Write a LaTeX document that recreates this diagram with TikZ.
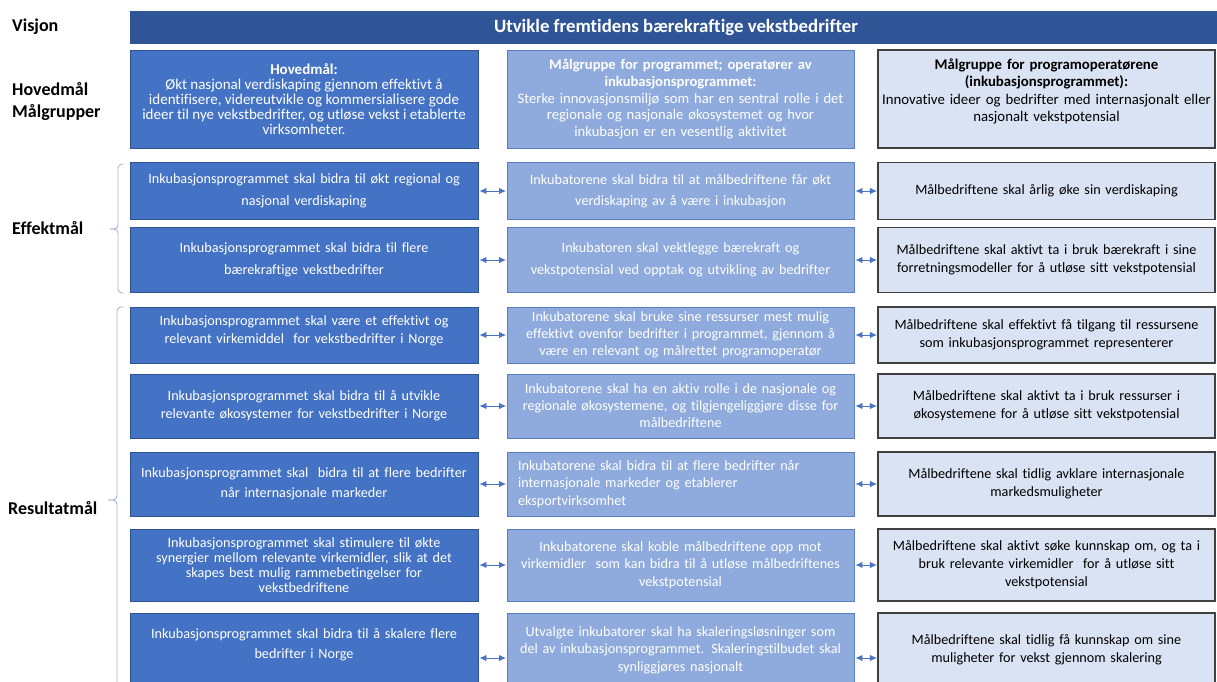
\documentclass[tikz,border=0pt]{standalone}
\usepackage{fontspec}
\setmainfont{Carlito}[Ligatures=NoCommon]
\usetikzlibrary{arrows.meta}
\definecolor{visj}{HTML}{2F5597}
\definecolor{cafill}{HTML}{4472C4}
\definecolor{caline}{HTML}{2F528F}
\definecolor{cbfill}{HTML}{8FAADC}
\definecolor{cbline}{HTML}{5B7EC0}
\definecolor{ccfill}{HTML}{DAE3F3}
\definecolor{ccline}{HTML}{404040}
\definecolor{arrc}{HTML}{4A74C2}
\definecolor{brkc}{HTML}{A9B8D8}
\begin{document}
\begin{tikzpicture}[x=1pt,y=-1pt,
  box/.style={draw, line width=0.9pt, inner sep=0pt, align=center, font=\fontsize{14.2}{18}\selectfont},
  ls/.style={font=\fontsize{14.2}{#1}\selectfont},
  lsf/.style 2 args={font=\fontsize{#1}{#2}\selectfont},
  cabase/.style={box, fill=cafill, draw=caline, text=white, minimum width=348pt},
  ca/.style={cabase, text width=346pt},
  cb/.style={box, fill=cbfill, draw=cbline, text=white, minimum width=347pt, text width=345pt},
  cc/.style={box, fill=ccfill, draw=ccline, line width=1.1pt, text=black, minimum width=337pt, text width=335pt},
  lab/.style={font=\fontsize{18}{22}\selectfont\bfseries, anchor=west, align=left, inner sep=0pt},
  biarrow/.style={{Latex[length=7pt,width=6.5pt]}-{Latex[length=7pt,width=6.5pt]}, draw=arrc, line width=0.9pt, shorten <=1pt, shorten >=0.5pt},
  brk/.style={draw=brkc, line width=0.9pt, rounded corners=4pt}]
\useasboundingbox (0,0) rectangle (1217,682);
\clip (0,0) rectangle (1217,682);

% left labels
\node[lab] (lv) at (12,27) {Visjon};
\node[lab] (lh) at (12,102) {Hovedmål\\Målgrupper};
\node[lab] (le) at (12,228) {Effektmål};
\node[lab] (lr) at (8,508) {Resultatmål};

% vision bar
\node[fill=visj, draw=visj, inner sep=0pt, minimum width=1092pt, minimum height=32pt, text=white,
  font=\fontsize{18.8}{22}\selectfont\bfseries] (vis) at (676,27) {Utvikle fremtidens bærekraftige vekstbedrifter};

% Hovedmål row
\node[cabase, minimum height=98pt, lsf={15}{15}] (h1) at (304,99) {\textbf{Hovedmål:}\\Økt nasjonal verdiskaping gjennom effektivt å\\identifisere, videreutvikle og kommersialisere gode\\ideer til nye vekstbedrifter, og utløse vekst i etablerte\\virksomheter.};
\node[cb, minimum height=98pt, lsf={14.6}{16.7}] (h2) at (680.5,99) {\textbf{Målgruppe for programmet; operatører av}\\\textbf{inkubasjonsprogrammet:}\\Sterke innovasjonsmiljø som har en sentral rolle i det\\regionale og nasjonale økosystemet og hvor\\inkubasjon er en vesentlig aktivitet};
\node[cc, minimum height=98pt, lsf={14.8}{17.5}] (h3) at (1046.5,99) {\textbf{Målgruppe for programoperatørene}\\\textbf{(inkubasjonsprogrammet):}\\Innovative ideer og bedrifter med internasjonalt eller\\nasjonalt vekstpotensial\\\mbox{}};

% Effektmål rows
\node[ca, minimum height=57pt, ls=21.5] (e1a) at (304,191) {Inkubasjonsprogrammet skal bidra til økt regional og\\nasjonal verdiskaping};
\node[cb, minimum height=57pt, ls=21] (e1b) at (680.5,191) {Inkubatorene skal bidra til at målbedriftene får økt\\verdiskaping av å være i inkubasjon};
\node[cc, minimum height=57pt] (e1c) at (1046.5,191) {Målbedriftene skal årlig øke sin verdiskaping};

\node[ca, minimum height=64.5pt, ls=21.5] (e2a) at (304,260) {Inkubasjonsprogrammet skal bidra til flere\\bærekraftige vekstbedrifter};
\node[cb, minimum height=64.5pt, ls=21.5] (e2b) at (680.5,260) {Inkubatoren skal vektlegge bærekraft og\\vekstpotensial ved opptak og utvikling av bedrifter};
\node[cc, minimum height=64.5pt] (e2c) at (1046.5,260) {Målbedriftene skal aktivt ta i bruk bærekraft i sine\\forretningsmodeller for å utløse sitt vekstpotensial};

% Resultatmål rows
\node[ca, minimum height=56pt] (r1a) at (304,335) {Inkubasjonsprogrammet skal være et effektivt og\\relevant virkemiddel \ for vekstbedrifter i Norge\\[-8pt]\mbox{}};
\node[cb, minimum height=56pt, ls=17] (r1b) at (680.5,335) {Inkubatorene skal bruke sine ressurser mest mulig\\effektivt ovenfor bedrifter i programmet, gjennom å\\være en relevant og målrettet programoperatør};
\node[cc, minimum height=56pt] (r1c) at (1046.5,335) {Målbedriftene skal effektivt få tilgang til ressursene\\som inkubasjonsprogrammet representerer};

\node[ca, minimum height=64pt] (r2a) at (304,406) {Inkubasjonsprogrammet skal bidra til å utvikle\\relevante økosystemer for vekstbedrifter i Norge};
\node[cb, minimum height=64pt, ls=17] (r2b) at (680.5,406) {Inkubatorene skal ha en aktiv rolle i de nasjonale og\\regionale økosystemene, og tilgjengeliggjøre disse for\\målbedriftene};
\node[cc, minimum height=64pt] (r2c) at (1046.5,406) {Målbedriftene skal aktivt ta i bruk ressurser i\\økosystemene for å utløse sitt vekstpotensial};

\node[ca, minimum height=64pt, ls=20] (r3a) at (304,484) {Inkubasjonsprogrammet skal \ bidra til at flere bedrifter\\når internasjonale markeder};
\node[cb, minimum height=64pt, ls=17.5, align=left, text width=325pt] (r3b) at (680.5,484) {Inkubatorene skal bidra til at flere bedrifter når\\internasjonale markeder og etablerer\\eksportvirksomhet};
\node[cc, minimum height=64pt] (r3c) at (1046.5,484) {Målbedriftene skal tidlig avklare internasjonale\\markedsmuligheter};

\node[ca, minimum height=72pt, ls=15] (r4a) at (304,565) {Inkubasjonsprogrammet skal stimulere til økte\\synergier mellom relevante virkemidler, slik at det\\skapes best mulig rammebetingelser for\\vekstbedriftene};
\node[cb, minimum height=72pt, ls=17.5] (r4b) at (680.5,565) {Inkubatorene skal koble målbedriftene opp mot\\virkemidler \ som kan bidra til å utløse målbedriftenes\\vekstpotensial};
\node[cc, minimum height=72pt] (r4c) at (1046.5,565) {Målbedriftene skal aktivt søke kunnskap om, og ta i\\bruk relevante virkemidler \ for å utløse sitt\\vekstpotensial};

\node[ca, minimum height=74pt, ls=20] (r5a) at (304,650) {Inkubasjonsprogrammet skal bidra til å skalere flere\\bedrifter i Norge\\[-6pt]\mbox{}};
\node[cb, minimum height=74pt, ls=17.5] (r5b) at (680.5,650) {Utvalgte inkubatorer skal ha skaleringsløsninger som\\del av inkubasjonsprogrammet. Skaleringstilbudet skal\\synliggjøres nasjonalt};
\node[cc, minimum height=74pt] (r5c) at (1046.5,650) {Målbedriftene skal tidlig få kunnskap om sine\\muligheter for vekst gjennom skalering};

% arrows
\foreach \r in {e1,e2,r1,r2,r3,r4} {
  \draw[biarrow] (\r a.east) -- (\r b.west);
  \draw[biarrow] (\r b.east) -- (\r c.west);
}
\draw[biarrow] ([yshift=-8pt]r5a.east) -- ([yshift=-8pt]r5b.west);
\draw[biarrow] ([yshift=-8pt]r5b.east) -- ([yshift=-8pt]r5c.west);

% brackets
\coordinate (eb1) at (124,164);
\coordinate (eb2) at (124,293);
\coordinate (et) at (110,229);
\draw[brk] (eb1) -- (118,164) -- (118,229) -- (et);
\draw[brk] (et) -- (118,229) -- (118,293) -- (eb2);
\coordinate (rb1) at (124,307);
\coordinate (rt) at (108,500);
\coordinate (rb2) at (117,700);
\draw[brk] (rb1) -- (117,307) -- (117,500) -- (rt);
\draw[brk] (rt) -- (117,500) -- (rb2);
\end{tikzpicture}
\end{document}
